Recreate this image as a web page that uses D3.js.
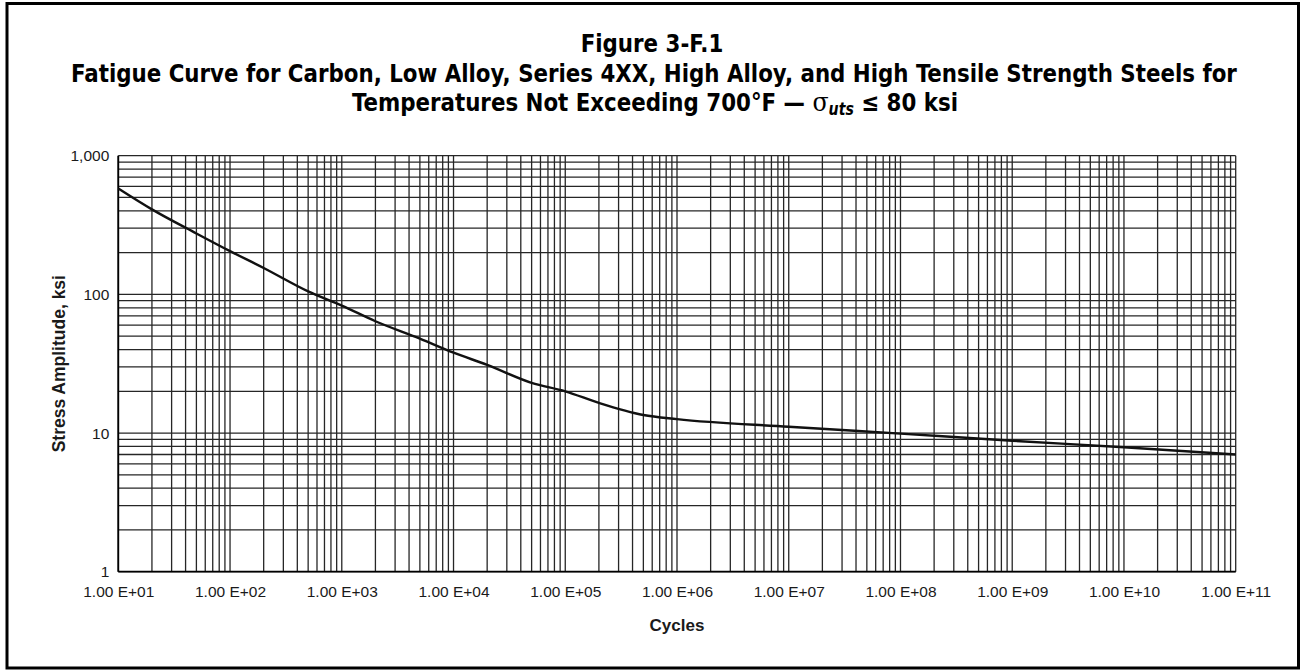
<!DOCTYPE html>
<html><head><meta charset="utf-8">
<script src="https://cdn.jsdelivr.net/npm/d3@7"></script>
<style>body{margin:0;background:#fff}svg{display:block}</style>
</head><body>
<svg id="c" width="1303" height="671"></svg>
<script>
const cycles = [1e1,2e1,5e1,1e2,2e2,5e2,1e3,2e3,5e3,1e4,2e4,5e4,1e5,2e5,5e5,1e6,1e7,1e8,1e9,1e10,1e11];
const stress = [580,410,275,205,155,105,83,64,48,38,31,23,20,16.5,13.5,12.6,11.1,9.9,8.8,7.9,7.0];
const xTickValues = [1e1,1e2,1e3,1e4,1e5,1e6,1e7,1e8,1e9,1e10,1e11];
const xTickLabels = ["1.00 E+01","1.00 E+02","1.00 E+03","1.00 E+04","1.00 E+05","1.00 E+06","1.00 E+07","1.00 E+08","1.00 E+09","1.00 E+10","1.00 E+11"];
const yTickValues = [1,10,100,1000];
const yTickLabels = ["1","10","100","1,000"];
const titleLines = ["Figure 3-F.1","Fatigue Curve for Carbon, Low Alloy, Series 4XX, High Alloy, and High Tensile Strength Steels for"];

const svg = d3.select("#c");
const L=118.3, R=1235.7, T=155.7, B=571.7;
const x = d3.scaleLog().domain([1e1,1e11]).range([L,R]);
const y = d3.scaleLog().domain([1,1000]).range([B,T]);

// outer frame
svg.append("rect").attr("x",7).attr("y",3.5).attr("width",1291.5).attr("height",664.5)
  .attr("fill","none").attr("stroke","#000").attr("stroke-width",3);

// grid
const xMinor=[], yMinor=[];
for(let d=1; d<=10; d++) for(let k=1;k<=9;k++) xMinor.push(k*Math.pow(10,d));
xMinor.push(1e11);
for(let d=0; d<=2; d++) for(let k=1;k<=9;k++) yMinor.push(k*Math.pow(10,d));
yMinor.push(1000);
const g = svg.append("g");
g.selectAll("line.vx").data(xMinor).join("line").attr("class","vx")
  .attr("x1",d=>x(d)).attr("x2",d=>x(d)).attr("y1",T).attr("y2",B)
  .attr("stroke","#262626").attr("stroke-width",1.3);
g.selectAll("line.hy").data(yMinor).join("line").attr("class","hy")
  .attr("y1",d=>y(d)).attr("y2",d=>y(d)).attr("x1",L).attr("x2",R)
  .attr("stroke","#262626").attr("stroke-width",1.3);
// axes lines
svg.append("line").attr("x1",L).attr("x2",L).attr("y1",T).attr("y2",B).attr("stroke","#000").attr("stroke-width",1.8);
svg.append("line").attr("x1",L).attr("x2",R).attr("y1",B).attr("y2",B).attr("stroke","#000").attr("stroke-width",1.8);

// axis tick labels via d3 axes
const xAxis = d3.axisBottom(x).tickValues(xTickValues).tickSize(0).tickPadding(0)
  .tickFormat((d,i)=>xTickLabels[i]);
const gx = svg.append("g").attr("transform",`translate(0,${B})`).call(xAxis);
gx.select(".domain").remove();
gx.selectAll("text").attr("dy",null).attr("y",25).attr("font-family","'Liberation Sans', Arial, sans-serif")
  .attr("font-size",15.5).attr("fill","#1a1a1a");
const yAxis = d3.axisLeft(y).tickValues(yTickValues).tickSize(0).tickPadding(9)
  .tickFormat((d,i)=>yTickLabels[i]);
const gy = svg.append("g").attr("transform",`translate(${L},0)`).call(yAxis);
gy.select(".domain").remove();
gy.selectAll("text").attr("font-family","'Liberation Sans', Arial, sans-serif")
  .attr("font-size",15.5).attr("fill","#1a1a1a");

// axis titles
svg.append("text").attr("x",677).attr("y",631).attr("text-anchor","middle")
  .attr("font-family","'Liberation Sans', Arial, sans-serif").attr("font-weight","bold")
  .attr("font-size",17).attr("fill","#1a1a1a").text("Cycles");
svg.append("text").attr("transform",`translate(65,${(T+B)/2}) rotate(-90)`).attr("text-anchor","middle")
  .attr("font-family","'Liberation Sans', Arial, sans-serif").attr("font-weight","bold")
  .attr("font-size",17.5).attr("fill","#1a1a1a").text("Stress Amplitude, ksi");

// curve
const pts = cycles.map((c,i)=>[c,stress[i]]);
svg.append("path").datum(pts).attr("fill","none").attr("stroke","#111").attr("stroke-width",2.4)
  .attr("d",d3.line().x(d=>x(d[0])).y(d=>y(d[1])).curve(d3.curveMonotoneX));

// titles (condensed look via horizontal scaling)
const tf = "'DejaVu Sans Condensed','DejaVu Sans',sans-serif";
const FS = 25.5;
const tg = svg.append("g");
const t1 = tg.append("text").attr("x",652).attr("y",52.5).attr("text-anchor","middle")
  .attr("font-family",tf).attr("font-weight","bold").attr("font-size",FS).text(titleLines[0]);
const t2 = tg.append("text").attr("x",654).attr("y",82).attr("text-anchor","middle")
  .attr("font-family",tf).attr("font-weight","bold").attr("font-size",FS).text(titleLines[1]);
const t3 = tg.append("text").attr("x",655).attr("y",111.5).attr("text-anchor","middle")
  .attr("font-family",tf).attr("font-weight","bold").attr("font-size",FS);
t3.append("tspan").text("Temperatures Not Exceeding 700°F — ");
t3.append("tspan").attr("font-weight","normal").attr("font-family","'DejaVu Serif',serif").text("σ");
t3.append("tspan").attr("font-style","italic").attr("font-size",FS*0.66).attr("dy",4).text("uts");
t3.append("tspan").attr("dy",-4).text(" ≤ 80 ksi");
const w2 = t2.node().getComputedTextLength();
const sx = Math.min(1, 1167/w2);
[t1,t2,t3].forEach(t=>{
  const cx = +t.attr("x");
  t.attr("transform",`translate(${cx},0) scale(${sx},1) translate(${-cx},0)`);
});
</script>
</body></html>
